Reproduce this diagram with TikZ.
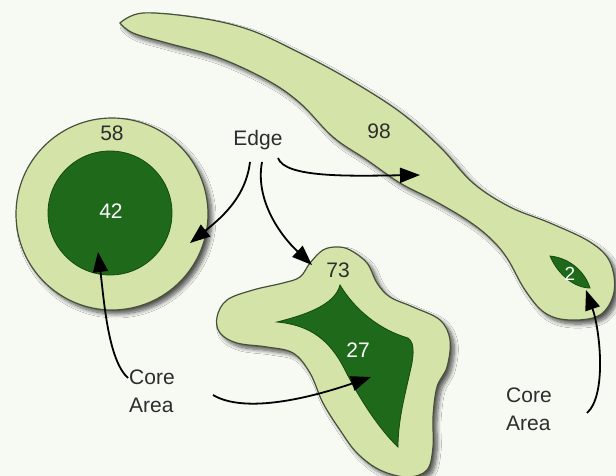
\documentclass[tikz,border=0pt]{standalone}
\usepackage{fontspec}
\setmainfont{Liberation Sans}
\usepackage{tikz}
\usetikzlibrary{arrows.meta,shadows.blur}

\definecolor{edgegreen}{RGB}{212,227,168}
\definecolor{coregreen}{RGB}{30,106,26}
\definecolor{outline}{RGB}{70,80,60}
\definecolor{paper}{RGB}{247,249,243}
\definecolor{ink}{RGB}{45,45,45}

\begin{document}
\begin{tikzpicture}[x=1pt,y=-1pt,
  patch/.style={fill=edgegreen,draw=outline,line width=1.2pt,
    blur shadow={shadow xshift=4pt,shadow yshift=-4pt,shadow blur radius=4pt,
      shadow opacity=65,shadow blur steps=8}},
  core/.style={fill=coregreen,draw=coregreen!70!black,line width=0.8pt},
  lbl/.style={font=\fontsize{21}{28}\selectfont,text=ink,inner sep=0pt},
  num/.style={lbl,text=white},
  arr/.style={-{Triangle[length=20pt,width=15pt]},line width=1.8pt,black}]
\fill[paper] (0,0) rectangle (616,476);
\useasboundingbox (0,0) rectangle (616,476);
% long strip
\draw[patch] plot[smooth,tension=0.6] coordinates {(120,23) (143,13) (200,18) (250,30)
  (300,53) (350,80) (400,112) (440,147) (473,183) (510,207) (550,223) (590,242)
  (610,262) (614,292) (600,315) (570,320) (545,313) (525,290) (507,258) (490,238)
  (467,220) (433,200) (400,183) (367,160) (333,137) (300,103) (267,80) (217,57)
  (167,43) (133,33) (120,23)} -- cycle;
\draw[core] (550,256) .. controls (570,258) and (585,272) .. (590,288)
  .. controls (575,288) and (558,275) .. (550,256) -- cycle;
% circle
\draw[patch] (112,214) circle[radius=96pt];
\draw[core] (110,213) circle[radius=62pt];
% blob
\draw[patch] plot[smooth cycle,tension=0.6] coordinates {(310,263) (323,250) (337,247)
  (350,250) (367,263) (377,283) (390,297) (413,307) (440,320) (450,340) (447,367)
  (437,387) (433,417) (433,447) (427,470) (407,477) (380,470) (357,453) (340,430)
  (323,403) (310,373) (293,353) (267,347) (237,343) (220,333) (217,317) (227,300)
  (253,290) (283,283) (300,277)};
\draw[core] (340,285) .. controls (355,310) and (380,330) .. (408,338)
  .. controls (416,343) and (413,360) .. (410,372)
  .. controls (405,395) and (398,420) .. (398,447)
  .. controls (380,430) and (360,400) .. (345,370)
  .. controls (330,340) and (310,325) .. (277,322)
  .. controls (305,315) and (335,305) .. (340,285) -- cycle;
% labels
\node[lbl] (edge) at (258,140) {Edge};
\node[lbl] (n58) at (112,133) {58};
\node[num] (n42) at (111,211) {42};
\node[lbl] (n98) at (379,131) {98};
\node[lbl] (n73) at (338,270) {73};
\node[num] (n27) at (358,350) {27};
\node[num,font=\fontsize{19}{22}\selectfont] (n2) at (570,274) {2};
\node[lbl,align=left,anchor=north west] (coreL) at (129,370) {Core\\Area};
\node[lbl,align=left,anchor=north west] (coreR) at (506,388) {Core\\Area};
% arrow tips
\coordinate (tip58) at (190,243);
\coordinate (tip73) at (312,265);
\coordinate (tip98) at (420,175);
\coordinate (tip42) at (98,252);
\coordinate (tip27) at (371,377);
\coordinate (tip2) at (586,290);
\draw[arr] ([shift={(-8,12)}]edge.south) .. controls (246,195) and (225,215) .. (tip58);
\draw[arr] ([shift={(4,12)}]edge.south) .. controls (255,200) and (280,235) .. (tip73);
\draw[arr] ([shift={(20,8)}]edge.south) .. controls (285,178) and (350,176) .. (tip98);
\draw[arr] ([shift={(-1,8)}]coreL.north west) .. controls (108,360) and (104,300) .. (tip42);
\draw[arr] ([shift={(84,25)}]coreL.north west) .. controls (245,414) and (310,398) .. (tip27);
\draw[arr] ([shift={(81,25)}]coreR.north west) .. controls (607,395) and (600,330) .. (tip2);
\end{tikzpicture}
\end{document}
